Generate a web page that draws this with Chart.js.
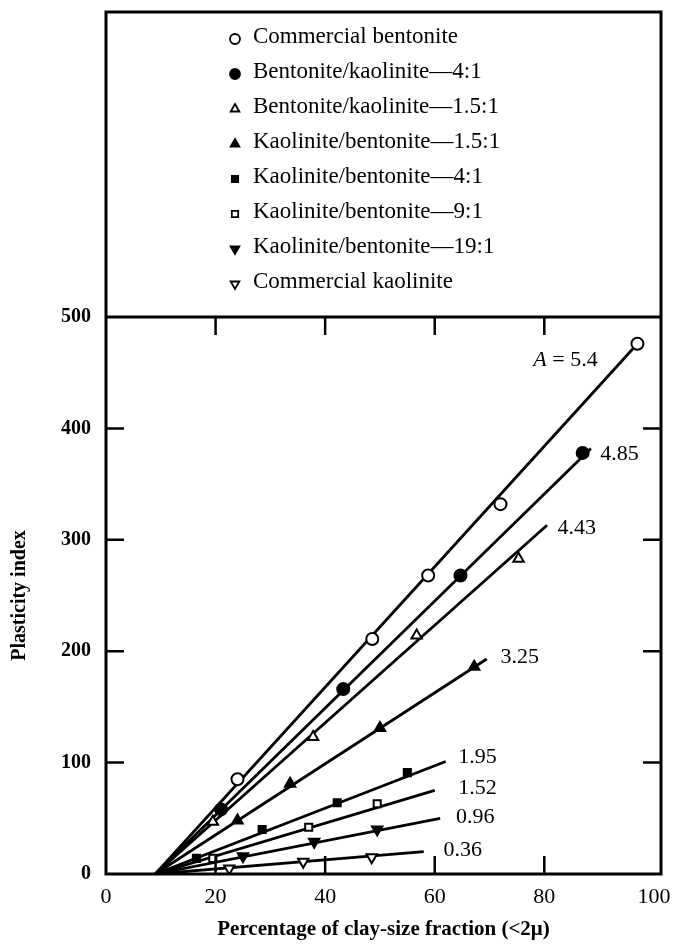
<!DOCTYPE html>
<html>
<head>
<meta charset="utf-8">
<script src="https://cdn.jsdelivr.net/npm/chart.js@4.4.0/dist/chart.umd.min.js"></script>
<style>
html, body { margin: 0; padding: 0; background: #fff; }
</style>
</head>
<body>
<canvas id="chart" width="675" height="946"></canvas>
<script>
// series, in legend order
const seriesNames = [
    'Commercial bentonite',
    'Bentonite/kaolinite\u20144:1',
    'Bentonite/kaolinite\u20141.5:1',
    'Kaolinite/bentonite\u20141.5:1',
    'Kaolinite/bentonite\u20144:1',
    'Kaolinite/bentonite\u20149:1',
    'Kaolinite/bentonite\u201419:1',
    'Commercial kaolinite'
]
const activityLabels = ['A = 5.4', '4.85', '4.43', '3.25', '1.95', '1.52', '0.96', '0.36']

// measured points (clay fraction %, plasticity index)
const benX = [24, 48.6, 58.8, 72, 97]
const benY = [85, 211, 268, 332, 476]
const bk41X = [21, 43.3, 64.7, 87]
const bk41Y = [58, 166, 268, 378]
const bk151X = [19.5, 37.8, 56.7, 75.3]
const bk151Y = [47, 123, 214, 283]
const kb151X = [24, 33.6, 50, 67.2]
const kb151Y = [48, 81, 131, 186]
const kb41X = [16.5, 28.5, 42.2, 55]
const kb41Y = [14, 40, 64, 91]
const kb91X = [19.5, 37, 49.5]
const kb91Y = [14, 42, 63]
const kb191X = [25, 38, 49.5]
const kb191Y = [16, 29, 40]
const kaoX = [22.5, 36, 48.5]
const kaoY = [5, 11, 15]

// fitted lines: all start on the x axis near 9 %
const lineStartX = 9
const lineEndX = [97, 88.5, 80.5, 69.5, 62, 60, 61, 58]
const lineEndY = [476, 382, 313, 193, 101, 75, 50, 20]

// where the activity numbers sit (data units)
const labelX = [78, 90.2, 82.4, 72, 64.3, 64.3, 63.9, 61.6]
const labelY = [461, 377, 310, 195, 105, 77, 51, 21]

const xTicks = [0, 20, 40, 60, 80, 100]
const yTicks = [0, 100, 200, 300, 400, 500]

const pointsX = [benX, bk41X, bk151X, kb151X, kb41X, kb91X, kb191X, kaoX]
const pointsY = [benY, bk41Y, bk151Y, kb151Y, kb41Y, kb91Y, kb191Y, kaoY]
const markers = [
    {style: 'circle', filled: false, rot: 0},
    {style: 'circle', filled: true, rot: 0},
    {style: 'triangle', filled: false, rot: 0},
    {style: 'triangle', filled: true, rot: 0},
    {style: 'rect', filled: true, rot: 0},
    {style: 'rect', filled: false, rot: 0},
    {style: 'triangle', filled: true, rot: 180},
    {style: 'triangle', filled: false, rot: 180}
]

const FONT = "'Liberation Serif', 'Times New Roman', serif"

let datasets = []
seriesNames.forEach(function(name, i) {
    datasets.push({
        label: name + ' fit',
        type: 'line',
        data: [{x: lineStartX, y: 0}, {x: lineEndX[i], y: lineEndY[i]}],
        borderColor: '#000',
        borderWidth: 2.8,
        pointRadius: 0,
        fill: false,
        order: 2
    })
    datasets.push({
        label: name,
        type: 'scatter',
        data: pointsX[i].map(function(x, j) { return {x: x, y: pointsY[i][j]} }),
        pointStyle: markers[i].style,
        rotation: markers[i].rot,
        pointRadius: markers[i].style === 'rect' ? 5 : 6,
        backgroundColor: markers[i].filled ? '#000' : '#fff',
        borderColor: '#000',
        borderWidth: 2,
        order: 1
    })
})

function drawMarker(ctx, m, x, y, r) {
    ctx.save()
    ctx.fillStyle = m.filled ? '#000' : '#fff'
    ctx.strokeStyle = '#000'
    ctx.lineWidth = 1.8
    Chart.helpers.drawPoint(ctx, {pointStyle: m.style, radius: r, rotation: m.rot, borderWidth: 1.8}, x, y)
    ctx.restore()
}

const framePlugin = {
    id: 'frame',
    afterDatasetsDraw: function(chart) {
        const ctx = chart.ctx
        const a = chart.chartArea
        const xs = chart.scales.x
        const ys = chart.scales.y
        const frameTop = 12
        ctx.save()
        ctx.strokeStyle = '#000'
        ctx.lineWidth = 3
        ctx.strokeRect(a.left, frameTop, a.right - a.left, a.bottom - frameTop)
        ctx.beginPath()
        ctx.moveTo(a.left, a.top)
        ctx.lineTo(a.right, a.top)
        ctx.stroke()

        // inward ticks on all four sides
        ctx.lineWidth = 2.5
        const tl = 18
        xTicks.slice(1, -1).forEach(function(v) {
            const px = xs.getPixelForValue(v)
            ctx.beginPath()
            ctx.moveTo(px, a.bottom); ctx.lineTo(px, a.bottom - tl)
            ctx.moveTo(px, a.top); ctx.lineTo(px, a.top + tl)
            ctx.stroke()
        })
        yTicks.slice(1, -1).forEach(function(v) {
            const py = ys.getPixelForValue(v)
            ctx.beginPath()
            ctx.moveTo(a.left, py); ctx.lineTo(a.left + tl, py)
            ctx.moveTo(a.right, py); ctx.lineTo(a.right - tl, py)
            ctx.stroke()
        })

        // activity labels
        ctx.fillStyle = '#000'
        ctx.textBaseline = 'middle'
        ctx.textAlign = 'left'
        activityLabels.forEach(function(t, i) {
            const px = xs.getPixelForValue(labelX[i])
            const py = ys.getPixelForValue(labelY[i])
            if (i === 0) {
                ctx.font = 'italic 22px ' + FONT
                ctx.fillText('A', px, py)
                const w = ctx.measureText('A').width
                ctx.font = '22px ' + FONT
                ctx.fillText(t.slice(1), px + w, py)
            } else {
                ctx.font = '22px ' + FONT
                ctx.fillText(t, px, py)
            }
        })

        // legend box content
        ctx.font = '23px ' + FONT
        seriesNames.forEach(function(name, i) {
            const y = 37 + i * 35
            drawMarker(ctx, markers[i], 235, y + 2, markers[i].style === 'rect' ? 4.5 : 5)
            ctx.fillStyle = '#000'
            ctx.fillText(name, 253, y)
        })
        ctx.restore()
    }
}

new Chart(document.getElementById('chart'), {
    data: {datasets: datasets},
    options: {
        responsive: false,
        animation: false,
        layout: {padding: {top: 317, right: 14, left: 0, bottom: 0}},
        plugins: {legend: {display: false}, tooltip: {enabled: false}},
        scales: {
            x: {
                type: 'linear',
                min: 0,
                max: 101.3,
                afterBuildTicks: function(scale) { scale.ticks = xTicks.map(function(v) { return {value: v} }) },
                afterFit: function(scale) {
                    scale.height = 72
                    scale.paddingLeft = 0
                    scale.paddingRight = 0
                },
                grid: {display: false, drawTicks: false},
                border: {display: false},
                ticks: {color: '#000', padding: 10, maxRotation: 0, font: {family: FONT, size: 22}},
                title: {
                    display: true,
                    text: 'Percentage of clay-size fraction (<2\u03bc)',
                    color: '#000',
                    font: {family: FONT, size: 21, weight: 'bold'},
                    padding: {top: 0, bottom: 4}
                }
            },
            y: {
                type: 'linear',
                min: 0,
                max: 500,
                afterBuildTicks: function(scale) { scale.ticks = yTicks.map(function(v) { return {value: v} }) },
                afterFit: function(scale) {
                    scale.width = 106
                    scale.paddingTop = 0
                    scale.paddingBottom = 0
                },
                grid: {display: false, drawTicks: false},
                border: {display: false},
                ticks: {color: '#000', padding: 15, font: {family: FONT, size: 20, weight: 'bold'}},
                title: {
                    display: true,
                    text: 'Plasticity index',
                    color: '#000',
                    font: {family: FONT, size: 20, weight: 'bold'},
                    padding: {top: 8, bottom: 0}
                }
            }
        }
    },
    plugins: [framePlugin]
})
</script>
</body>
</html>
